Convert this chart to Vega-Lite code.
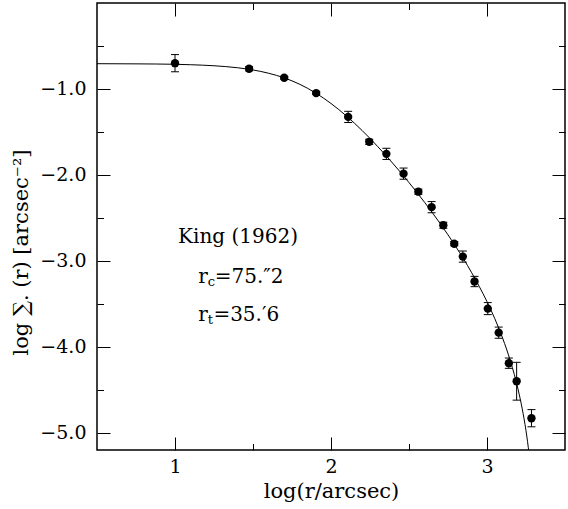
{
  "$schema": "https://vega.github.io/schema/vega-lite/v6.json",
  "width": 468,
  "height": 447,
  "autosize": {"type": "none"},
  "padding": {"left": 97, "top": 3, "right": 3, "bottom": 59},
  "background": "white",
  "config": {
    "view": {"stroke": "black", "strokeWidth": 1.5},
    "font": "DejaVu Serif",
    "axis": {
      "domain": false,
      "grid": false,
      "tickColor": "black",
      "tickWidth": 1,
      "labelFont": "DejaVu Serif",
      "titleFont": "DejaVu Serif",
      "labelColor": "black",
      "titleColor": "black",
      "titleFontWeight": "normal"
    }
  },
  "datasets": {
    "pts": [
      {"x": 1.0, "y": -0.70, "lo": -0.80, "hi": -0.60},
      {"x": 1.475, "y": -0.765, "lo": -0.79, "hi": -0.74},
      {"x": 1.70, "y": -0.869, "lo": -0.885, "hi": -0.853},
      {"x": 1.905, "y": -1.048, "lo": -1.065, "hi": -1.031},
      {"x": 2.11, "y": -1.325, "lo": -1.39, "hi": -1.26},
      {"x": 2.245, "y": -1.615, "lo": -1.645, "hi": -1.585},
      {"x": 2.355, "y": -1.755, "lo": -1.82, "hi": -1.69},
      {"x": 2.465, "y": -1.985, "lo": -2.05, "hi": -1.92},
      {"x": 2.56, "y": -2.195, "lo": -2.225, "hi": -2.165},
      {"x": 2.645, "y": -2.375, "lo": -2.44, "hi": -2.31},
      {"x": 2.72, "y": -2.585, "lo": -2.62, "hi": -2.55},
      {"x": 2.79, "y": -2.80, "lo": -2.825, "hi": -2.775},
      {"x": 2.845, "y": -2.95, "lo": -3.015, "hi": -2.885},
      {"x": 2.92, "y": -3.24, "lo": -3.30, "hi": -3.18},
      {"x": 3.005, "y": -3.555, "lo": -3.625, "hi": -3.485},
      {"x": 3.075, "y": -3.835, "lo": -3.90, "hi": -3.77},
      {"x": 3.14, "y": -4.19, "lo": -4.25, "hi": -4.13},
      {"x": 3.19, "y": -4.40, "lo": -4.62, "hi": -4.18},
      {"x": 3.285, "y": -4.83, "lo": -4.93, "hi": -4.73}
    ],
    "curve": [
      {"x": 0.5, "y": -0.706},
      {"x": 0.75, "y": -0.708},
      {"x": 1.0, "y": -0.713},
      {"x": 1.1, "y": -0.718},
      {"x": 1.25, "y": -0.730},
      {"x": 1.4, "y": -0.753},
      {"x": 1.5, "y": -0.779},
      {"x": 1.6, "y": -0.817},
      {"x": 1.7, "y": -0.871},
      {"x": 1.8, "y": -0.946},
      {"x": 1.9, "y": -1.045},
      {"x": 2.0, "y": -1.169},
      {"x": 2.1, "y": -1.316},
      {"x": 2.2, "y": -1.484},
      {"x": 2.3, "y": -1.671},
      {"x": 2.4, "y": -1.873},
      {"x": 2.5, "y": -2.089},
      {"x": 2.6, "y": -2.319},
      {"x": 2.7, "y": -2.566},
      {"x": 2.8, "y": -2.834},
      {"x": 2.85, "y": -2.978},
      {"x": 2.9, "y": -3.132},
      {"x": 2.95, "y": -3.296},
      {"x": 3.0, "y": -3.474},
      {"x": 3.025, "y": -3.570},
      {"x": 3.05, "y": -3.672},
      {"x": 3.075, "y": -3.781},
      {"x": 3.1, "y": -3.898},
      {"x": 3.125, "y": -4.025},
      {"x": 3.15, "y": -4.165},
      {"x": 3.175, "y": -4.321},
      {"x": 3.2, "y": -4.501},
      {"x": 3.225, "y": -4.713},
      {"x": 3.25, "y": -4.976},
      {"x": 3.26, "y": -5.103},
      {"x": 3.27, "y": -5.248}
    ],
    "txt": [
      {"x": 1.02, "y": -2.721, "t": "King (1962)", "k": "m"},
      {"x": 1.149, "y": -3.186, "t": "r", "k": "m"},
      {"x": 1.210, "y": -3.25, "t": "c", "k": "s"},
      {"x": 1.255, "y": -3.186, "t": "=75.″2", "k": "m"},
      {"x": 1.149, "y": -3.628, "t": "r", "k": "m"},
      {"x": 1.210, "y": -3.69, "t": "t", "k": "s"},
      {"x": 1.246, "y": -3.628, "t": "=35.′6", "k": "m"}
    ]
  },
  "resolve": {"axis": {"x": "independent", "y": "independent"}},
  "layer": [
    {
      "data": {"name": "curve"},
      "mark": {"type": "line", "color": "black", "strokeWidth": 1, "interpolate": "monotone", "clip": true},
      "encoding": {
        "x": {"field": "x", "type": "quantitative", "scale": {"domain": [0.5, 3.5], "nice": false, "zero": false},
          "axis": {"orient": "bottom", "values": [1, 2, 3], "tickSize": -13, "labelFontSize": 19, "labelPadding": 20, "title": "log(r/arcsec)", "titleFontSize": 21, "titlePadding": 4}},
        "y": {"field": "y", "type": "quantitative", "scale": {"domain": [-5.2, 0], "nice": false, "zero": false},
          "axis": {"orient": "left", "values": [-1, -2, -3, -4, -5], "format": ".1f", "tickSize": -13, "labelFontSize": 19, "labelPadding": 24, "title": "log ∑. (r) [arcsec⁻²]", "titleFontSize": 21, "titlePadding": 8, "titleAnchor": "middle", "titleY": 249}}
      }
    },
    {
      "data": {"name": "pts"},
      "mark": {"type": "rule", "color": "black", "strokeWidth": 1},
      "encoding": {
        "x": {"field": "x", "type": "quantitative", "scale": {"domain": [0.5, 3.5], "nice": false, "zero": false},
          "axis": {"orient": "bottom", "values": [1.5, 2.5], "tickSize": -6.5, "labels": false, "title": null}},
        "y": {"field": "lo", "type": "quantitative", "scale": {"domain": [-5.2, 0], "nice": false, "zero": false},
          "axis": {"orient": "left", "values": [-0.5, -1.5, -2.5, -3.5, -4.5], "tickSize": -6.5, "labels": false, "title": null}},
        "y2": {"field": "hi"}
      }
    },
    {
      "data": {"name": "pts"},
      "mark": {"type": "tick", "orient": "horizontal", "size": 8, "thickness": 1, "color": "black", "opacity": 1},
      "encoding": {
        "x": {"field": "x", "type": "quantitative", "scale": {"domain": [0.5, 3.5], "nice": false, "zero": false},
          "axis": {"orient": "top", "values": [1, 2, 3], "tickSize": -13, "labels": false, "title": null}},
        "y": {"field": "lo", "type": "quantitative", "scale": {"domain": [-5.2, 0], "nice": false, "zero": false},
          "axis": {"orient": "right", "values": [-1, -2, -3, -4, -5], "tickSize": -13, "labels": false, "title": null}}
      }
    },
    {
      "data": {"name": "pts"},
      "mark": {"type": "tick", "orient": "horizontal", "size": 8, "thickness": 1, "color": "black", "opacity": 1},
      "encoding": {
        "x": {"field": "x", "type": "quantitative", "scale": {"domain": [0.5, 3.5], "nice": false, "zero": false},
          "axis": {"orient": "top", "values": [1.5, 2.5], "tickSize": -6.5, "labels": false, "title": null}},
        "y": {"field": "hi", "type": "quantitative", "scale": {"domain": [-5.2, 0], "nice": false, "zero": false},
          "axis": {"orient": "right", "values": [-0.5, -1.5, -2.5, -3.5, -4.5], "tickSize": -6.5, "labels": false, "title": null}}
      }
    },
    {
      "data": {"name": "pts"},
      "mark": {"type": "circle", "size": 70, "color": "black", "opacity": 1},
      "encoding": {
        "x": {"field": "x", "type": "quantitative", "scale": {"domain": [0.5, 3.5], "nice": false, "zero": false}, "axis": null},
        "y": {"field": "y", "type": "quantitative", "scale": {"domain": [-5.2, 0], "nice": false, "zero": false}, "axis": null}
      }
    },
    {
      "data": {"name": "txt"},
      "transform": [{"filter": "datum.k === 'm'"}],
      "mark": {"type": "text", "align": "left", "baseline": "middle", "fontSize": 20, "font": "DejaVu Serif", "color": "black"},
      "encoding": {
        "x": {"field": "x", "type": "quantitative", "scale": {"domain": [0.5, 3.5], "nice": false, "zero": false}, "axis": null},
        "y": {"field": "y", "type": "quantitative", "scale": {"domain": [-5.2, 0], "nice": false, "zero": false}, "axis": null},
        "text": {"field": "t"}
      }
    },
    {
      "data": {"name": "txt"},
      "transform": [{"filter": "datum.k === 's'"}],
      "mark": {"type": "text", "align": "left", "baseline": "middle", "fontSize": 13, "font": "DejaVu Serif", "color": "black"},
      "encoding": {
        "x": {"field": "x", "type": "quantitative", "scale": {"domain": [0.5, 3.5], "nice": false, "zero": false}, "axis": null},
        "y": {"field": "y", "type": "quantitative", "scale": {"domain": [-5.2, 0], "nice": false, "zero": false}, "axis": null},
        "text": {"field": "t"}
      }
    }
  ]
}
